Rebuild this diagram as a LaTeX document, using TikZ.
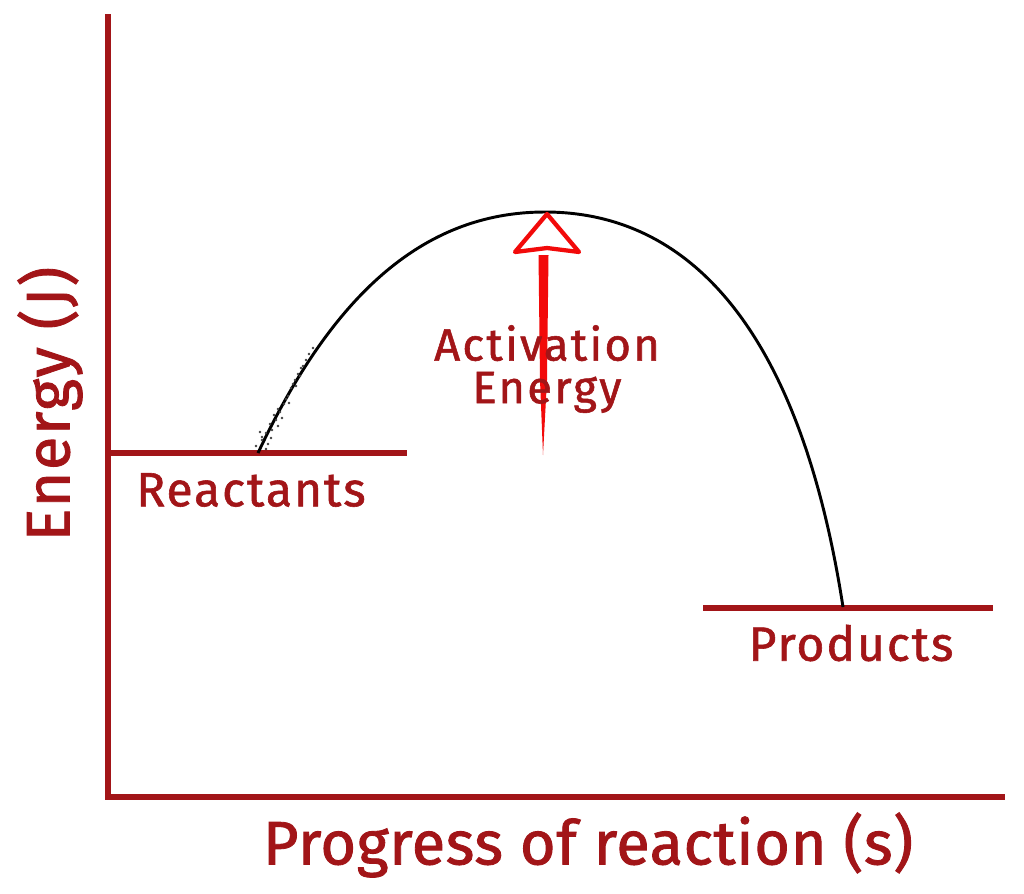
\documentclass[tikz,border=0pt]{standalone}
\usepackage{fontspec}
\setmainfont{Fira Sans}[FakeBold=1.2]
\newfontfamily\lblfont{Fira Sans}[FakeBold=1.2,LetterSpace=4]
\newfontfamily\actfont{Fira Sans}[FakeBold=1.2,LetterSpace=5]
\newfontfamily\yfont{Fira Sans}[FakeBold=1.4,LetterSpace=2.5]
\newfontfamily\xfont{Fira Sans}[FakeBold=1.4,LetterSpace=1]
\definecolor{axisred}{HTML}{A21518}
\definecolor{arrowred}{HTML}{F20A0A}
\begin{document}
\begin{tikzpicture}[x=0.75pt,y=-0.75pt,
  axis/.style={draw=axisred,line width=3.8pt},
  level/.style={draw=axisred,line width=3.8pt},
  lbl/.style={text=axisred,font=\lblfont\fontsize{36}{40}\selectfont,inner sep=0pt},
  biglbl/.style={text=axisred,inner sep=0pt},
  curve/.style={draw=black,line width=2.2pt}]
\fill[white] (0,0) rectangle (1024,893);
\useasboundingbox (0,0) rectangle (1024,893);
% axes
\coordinate (ytop) at (108,14);
\coordinate (origin) at (108,797);
\coordinate (xend) at (1005,797);
\draw[axis] (ytop) -- (108,799.5) ;
\draw[axis] (105.5,797) -- (xend);
% levels
\coordinate (r1) at (108,453);
\coordinate (r2) at (407,453);
\coordinate (p1) at (703,608);
\coordinate (p2) at (993,608);
\draw[level] (r1) -- (r2);
\draw[level] (p1) -- (p2);
% curve
\coordinate (cs) at (258,453);
\coordinate (peak) at (545,212);
\coordinate (ce) at (843,607);
\draw[curve] (cs) .. controls (330,300) and (420,212) .. (peak)
  .. controls (690,212) and (800,330) .. (ce);
% scatter near start
\foreach \px/\py in {256/446,262/440,268/444,266/433,272/430,270/424,276/420,262/437,280/412,284/404,288/396,274/415,282/418,291/388,295/380,298/374,301/368,306/360,303/366,289/403,266/449,278/409,293/384,309/354,313/348,271/438,286/399,296/386,260/432,300/376,278/426}
  \fill[black!75] (\px,\py) circle (1.1pt);
% activation arrow
\coordinate (abase) at (543,455);
\fill[arrowred] (abase) -- (540,380) -- (538.5,255) -- (548.5,255) -- (547,380) -- cycle;
\draw[arrowred,line width=3.2pt,line join=round] (547,214) -- (579,252) -- (547,248) -- (515,252) -- cycle;
\node[biglbl,font=\actfont\fontsize{34}{32}\selectfont,align=center] (act) at (547,369) {Activation\\Energy};
% labels
\node[lbl] (react) at (251,490) {Reactants};
\node[lbl] (prod) at (851,643) {Products};
\node[biglbl,font=\yfont\fontsize{46}{50}\selectfont,rotate=90] (ylab) at (50,404) {Energy (J)};
\node[biglbl,font=\xfont\fontsize{46}{50}\selectfont] (xlab) at (588,845) {Progress of reaction (s)};
\end{tikzpicture}
\end{document}
